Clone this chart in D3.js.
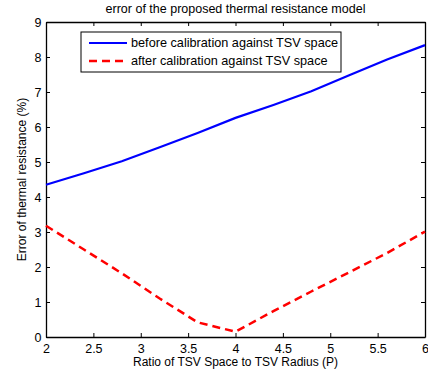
<!DOCTYPE html>
<html>
<head>
<meta charset="utf-8">
<script src="https://cdn.jsdelivr.net/npm/d3@7"></script>
<style>
  body { margin: 0; background: #fff; }
  text { font-family: "Liberation Sans", Arial, sans-serif; fill: #000; }
</style>
</head>
<body>
<script>
// ratio P
var ratio = [2, 2.4, 2.8, 3.2, 3.6, 4, 4.4, 4.8, 5.2, 5.6, 6];
var beforeCal = [4.35, 4.68, 5.02, 5.42, 5.83, 6.26, 6.63, 7.02, 7.48, 7.93, 8.34];
var afterCal = [3.18, 2.5, 1.82, 1.1, 0.42, 0.15, 0.74, 1.30, 1.85, 2.40, 3.01];
var xTicks = [2, 2.5, 3, 3.5, 4, 4.5, 5, 5.5, 6];
var yTicks = [0, 1, 2, 3, 4, 5, 6, 7, 8, 9];
var seriesNames = ["before calibration against TSV space", "after calibration against TSV space"];

var w = 428, h = 374;
var pl = 46, pr = 425, pt = 22, pb = 337;

var svg = d3.select("body").append("svg")
    .attr("width", w)
    .attr("height", h);

var x = d3.scaleLinear().domain([2, 6]).range([pl, pr]);
var y = d3.scaleLinear().domain([0, 9]).range([pb, pt]);

// axes box, ticks inside on all sides
svg.append("g").attr("transform", "translate(0," + pb + ")")
    .call(d3.axisBottom(x).tickValues(xTicks).tickSizeInner(-4).tickSizeOuter(0).tickPadding(7.5)
        .tickFormat(d3.format("")));
svg.append("g").attr("transform", "translate(0," + pt + ")")
    .call(d3.axisTop(x).tickValues(xTicks).tickSizeInner(-4).tickSizeOuter(0).tickFormat(""));
svg.append("g").attr("transform", "translate(" + pl + ",0)")
    .call(d3.axisLeft(y).tickValues(yTicks).tickSizeInner(-4).tickSizeOuter(0).tickPadding(4.5));
svg.append("g").attr("transform", "translate(" + pr + ",0)")
    .call(d3.axisRight(y).tickValues(yTicks).tickSizeInner(-4).tickSizeOuter(0).tickFormat(""));

svg.selectAll(".domain").attr("stroke", "#000").attr("stroke-width", 1.3);
svg.selectAll(".tick line").attr("stroke", "#000");
svg.selectAll(".tick text").attr("font-size", "12.5px").attr("font-family", "Liberation Sans, Arial, sans-serif");

var line = d3.line()
    .x(function(d, i) { return x(ratio[i]); })
    .y(function(d) { return y(d); });

svg.append("path")
    .datum(beforeCal)
    .attr("d", line)
    .attr("fill", "none")
    .attr("stroke", "#0000ff")
    .attr("stroke-width", 2.2);

svg.append("path")
    .datum(afterCal)
    .attr("d", line)
    .attr("fill", "none")
    .attr("stroke", "#ff0000")
    .attr("stroke-width", 2.5)
    .attr("stroke-dasharray", "8,5");

// title and labels
svg.append("text")
    .attr("x", (pl + pr) / 2)
    .attr("y", 12.5)
    .attr("text-anchor", "middle")
    .attr("font-size", "12.5px")
    .text("error of the proposed thermal resistance model");

svg.append("text")
    .attr("x", (pl + pr) / 2)
    .attr("y", 366)
    .attr("text-anchor", "middle")
    .attr("font-size", "12px")
    .text("Ratio of TSV Space to TSV Radius (P)");

svg.append("text")
    .attr("transform", "translate(26," + ((pt + pb) / 2) + ") rotate(-90)")
    .attr("text-anchor", "middle")
    .attr("font-size", "12px")
    .text("Error of thermal resistance (%)");

// legend
var lg = svg.append("g");
lg.append("rect")
    .attr("x", 81).attr("y", 32)
    .attr("width", 260).attr("height", 40)
    .attr("fill", "#fff").attr("stroke", "#000").attr("stroke-width", 1);

var colors = ["#0000ff", "#ff0000"];
var dashes = [null, "8,5"];
seriesNames.forEach(function(name, i) {
    var yy = 43 + i * 18;
    lg.append("line")
        .attr("x1", 89).attr("x2", 127)
        .attr("y1", yy).attr("y2", yy)
        .attr("stroke", colors[i])
        .attr("stroke-width", i == 0 ? 2.2 : 2.5)
        .attr("stroke-dasharray", dashes[i]);
    lg.append("text")
        .attr("x", 131).attr("y", yy + 4)
        .attr("font-size", "12.7px")
        .text(name);
});
</script>
</body>
</html>
